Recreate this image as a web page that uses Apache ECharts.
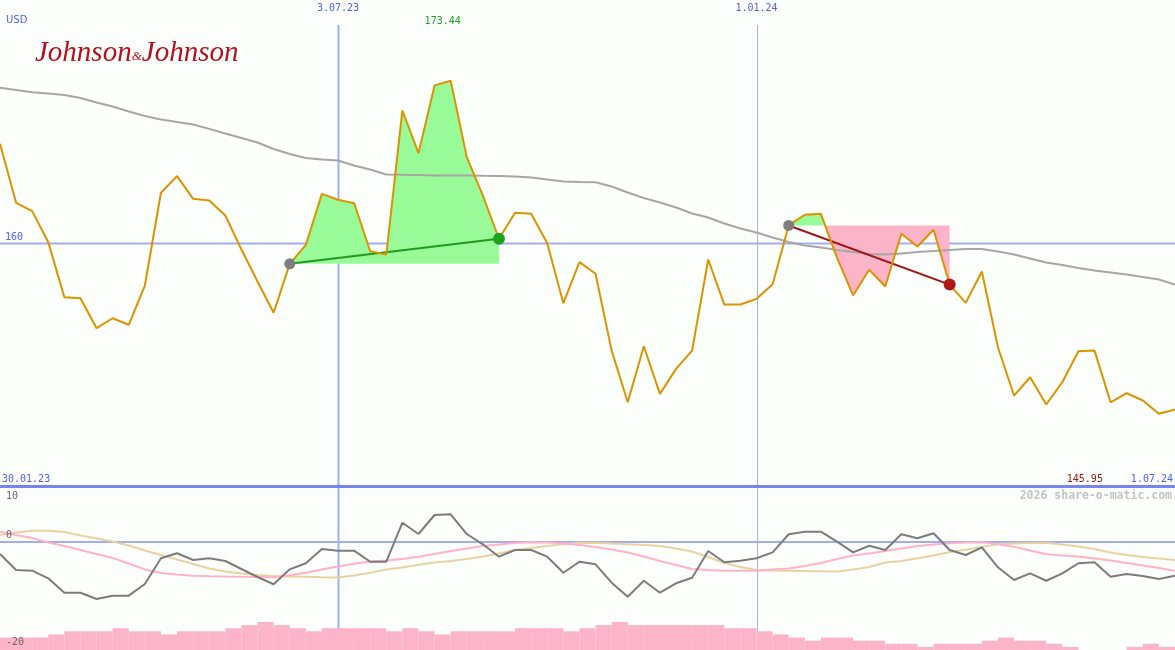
<!DOCTYPE html>
<html>
<head>
<meta charset="utf-8">
<script src="https://cdn.jsdelivr.net/npm/echarts@6/dist/echarts.min.js"></script>
<style>
  html, body { margin: 0; padding: 0; background: #fcfefc; }
  #chart { width: 1175px; height: 650px; }
</style>
</head>
<body>
<div id="chart"></div>
<script>
// Weekly closing prices (USD), one point per week
const price = [
  168.23, 163.36, 162.67, 160.11, 155.57, 155.48, 153.01, 153.83, 153.29, 156.53,
  164.19, 165.56, 163.69, 163.55, 162.31, 159.50, 156.86, 154.28, 158.32, 159.89,
  164.10, 163.61, 163.33, 159.36, 159.08, 170.98, 167.46, 173.05, 173.44, 167.13,
  163.96, 160.39, 162.54, 162.45, 160.02, 155.07, 158.46, 157.50, 151.16, 146.89,
  151.52, 147.59, 149.65, 151.16, 158.68, 154.96, 154.96, 155.43, 156.64, 161.49,
  162.37, 162.45, 158.84, 155.71, 157.83, 156.45, 160.80, 159.75, 161.13, 156.61,
  155.10, 157.69, 151.44, 147.45, 148.96, 146.71, 148.55, 151.11, 151.16, 146.89,
  147.64, 147.04, 145.95, 146.29
];

// Long moving average of the price
const movingAvg = [
  172.86, 172.68, 172.49, 172.39, 172.26, 172.01, 171.64, 171.31, 170.90, 170.53,
  170.24, 170.03, 169.83, 169.46, 169.08, 168.71, 168.34, 167.80, 167.39, 167.06,
  166.94, 166.85, 166.44, 166.11, 165.70, 165.67, 165.66, 165.62, 165.62, 165.62,
  165.59, 165.57, 165.53, 165.45, 165.28, 165.12, 165.08, 165.06, 164.71, 164.21,
  163.76, 163.39, 162.97, 162.48, 162.15, 161.65, 161.24, 160.91, 160.50, 160.12,
  159.83, 159.67, 159.46, 159.30, 159.13, 159.09, 159.17, 159.30, 159.38, 159.46,
  159.55, 159.55, 159.34, 159.09, 158.76, 158.43, 158.22, 157.98, 157.77, 157.61,
  157.44, 157.23, 157.03, 156.61
];

// Lower panel: momentum (grey) and two smoothed signal lines
const momentum = [
  -2.22, -5.19, -5.31, -6.72, -9.39, -9.39, -10.56, -9.94, -9.94, -7.78,
  -3.02, -2.09, -3.33, -3.02, -3.52, -5.00, -6.48, -7.83, -5.06, -3.94,
  -1.30, -1.61, -1.61, -3.65, -3.65, 3.57, 1.48, 5.00, 5.13, 1.48,
  -0.43, -2.72, -1.48, -1.48, -2.72, -5.69, -3.65, -4.13, -7.54, -10.13,
  -7.17, -9.39, -7.65, -6.61, -1.67, -3.76, -3.46, -3.02, -1.91, 1.43,
  1.91, 1.91, 0.06, -1.91, -0.69, -1.48, 1.43, 0.69, 1.61, -1.48,
  -2.41, -0.98, -4.69, -7.04, -5.80, -7.17, -5.80, -3.94, -3.76, -6.43,
  -5.93, -6.30, -6.85, -6.24
];
const signalFast = [
  1.91, 1.30, 0.74, -0.09, -0.74, -1.48, -2.22, -2.96, -3.98, -5.09,
  -5.74, -6.02, -6.26, -6.33, -6.39, -6.44, -6.48, -6.54, -6.17, -5.70,
  -5.09, -4.54, -4.04, -3.61, -3.43, -3.15, -2.74, -2.22, -1.67, -1.20,
  -0.74, -0.46, -0.19, -0.06, -0.11, -0.28, -0.56, -0.93, -1.39, -1.94,
  -2.69, -3.52, -4.26, -5.00, -5.19, -5.31, -5.31, -5.31, -5.09, -4.91,
  -4.44, -3.89, -3.15, -2.50, -2.13, -1.67, -1.20, -0.74, -0.46, -0.22,
  -0.09, -0.06, -0.43, -0.87, -1.57, -2.28, -2.50, -2.70, -3.06, -3.43,
  -3.89, -4.35, -4.81, -5.31
];
const signalSlow = [
  1.30, 1.76, 2.07, 2.07, 1.85, 1.20, 0.65, 0.09, -0.65, -1.57,
  -2.41, -3.24, -4.07, -4.91, -5.46, -5.83, -6.11, -6.30, -6.37, -6.43,
  -6.52, -6.59, -6.20, -5.70, -5.09, -4.72, -4.22, -3.80, -3.52, -3.15,
  -2.69, -2.13, -1.48, -1.11, -0.74, -0.37, -0.19, -0.13, -0.28, -0.41,
  -0.56, -0.74, -1.20, -1.76, -2.78, -3.89, -4.63, -5.19, -5.28, -5.31,
  -5.37, -5.43, -5.48, -5.09, -4.63, -3.80, -3.52, -3.02, -2.50, -1.85,
  -1.44, -0.93, -0.43, -0.28, -0.19, -0.13, -0.46, -0.83, -1.30, -1.94,
  -2.41, -2.78, -3.06, -3.33
];

// Weekly volume blocks between consecutive points
const volume = [
  4, 4, 4, 5, 6, 6, 6, 7, 6, 6, 5, 6, 6, 6, 7, 8, 9, 8, 7, 6,
  7, 7, 7, 7, 6, 7, 6, 5, 6, 6, 6, 6, 7, 7, 7, 6, 7, 8, 9, 8,
  8, 8, 8, 8, 8, 7, 7, 6, 5, 4, 3, 4, 4, 3, 3, 2, 2, 1, 2, 2,
  2, 3, 4, 3, 3, 2, 1, 0, 0, 0, 1, 2, 1
];

// Date ticks (week index -> label)
const tickIndex = [0, 21, 47, 73];
const tickLabels = ['30.01.23', '3.07.23', '1.01.24', '1.07.24'];

// Trades: entry / exit week indices
const tradeEntry = [18, 49];
const tradeExit = [31, 59];

const priceLevel = 160;
const oscTicks = [10, 0, -20];
const currency = 'USD';
const company = ['Johnson', '&', 'Johnson'];
const credit = '2026 share-o-matic.com';

const BLUE_TXT = '#4f5ff2';
const GUIDE = '#a2adf0';
const MONO = "'DejaVu Sans Mono', monospace";

const weeks = price.map((_, i) => i);
const volCats = volume.map((_, i) => String(i));
const toPairs = arr => arr.map((v, i) => [i, v]);

const maxIdx = price.indexOf(Math.max(...price));
const minIdx = price.indexOf(Math.min(...price));

// Area between the price path and the entry level, green above / pink below
function tradeArea(params, api) {
  const a = tradeEntry[params.dataIndex];
  const b = tradeExit[params.dataIndex];
  const base = price[a];
  const pts = [[a, price[a]]];
  for (let k = a; k < b; k++) {
    const p0 = price[k], p1 = price[k + 1];
    if ((p0 - base) * (p1 - base) < 0) {
      pts.push([k + (base - p0) / (p1 - p0), base]);
    }
    pts.push([k + 1, p1]);
  }
  const children = [];
  const flush = run => {
    if (run.length < 2) return;
    const inner = run.find(p => p[1] !== base);
    if (!inner) return;
    const poly = run.map(p => api.coord(p));
    poly.push(api.coord([run[run.length - 1][0], base]));
    poly.push(api.coord([run[0][0], base]));
    children.push({
      type: 'polygon',
      shape: { points: poly },
      style: { fill: inner[1] > base ? '#98fb98' : '#fbb4c8' }
    });
  };
  let run = [pts[0]];
  for (let n = 1; n < pts.length; n++) {
    run.push(pts[n]);
    if (pts[n][1] === base && n < pts.length - 1) {
      flush(run);
      run = [pts[n]];
    }
  }
  flush(run);
  return { type: 'group', children };
}

const chart = echarts.init(document.getElementById('chart'), null, { renderer: 'canvas' });

const tradeLines = tradeEntry.map((a, t) => {
  const b = tradeExit[t];
  const win = price[b] >= price[a];
  return {
    type: 'line', xAxisIndex: 0, yAxisIndex: 0, z: 4,
    data: [[a, price[a]], [b, price[b]]],
    symbol: 'none', silent: true,
    lineStyle: { color: win ? '#1f9a1f' : '#a01414', width: 2 }
  };
});

chart.setOption({
  animation: false,
  backgroundColor: '#fcfefc',
  grid: [
    { left: 0, right: 0, top: 0, height: 487 },
    { left: 0, right: 0, top: 488, height: 162 }
  ],
  xAxis: [
    { type: 'value', gridIndex: 0, min: 0, max: weeks.length - 1, show: false },
    { type: 'value', gridIndex: 1, min: 0, max: weeks.length - 1, show: false },
    { type: 'category', gridIndex: 1, data: volCats, boundaryGap: true, show: false }
  ],
  yAxis: [
    { type: 'value', gridIndex: 0, min: 139.9, max: 180.1, show: false },
    { type: 'value', gridIndex: 1, min: -20, max: 10, show: false },
    { type: 'value', gridIndex: 1, min: 0, max: 52, show: false }
  ],
  series: [
    {
      type: 'custom', xAxisIndex: 0, yAxisIndex: 0, z: 2, silent: true,
      renderItem: tradeArea,
      data: tradeEntry.map(i => [i, price[i]])
    },
    {
      type: 'line', xAxisIndex: 0, yAxisIndex: 0, z: 3, silent: true,
      data: toPairs(movingAvg), symbol: 'none',
      lineStyle: { color: '#a6a6a6', width: 2 }
    },
    ...tradeLines,
    {
      type: 'line', xAxisIndex: 0, yAxisIndex: 0, z: 5, silent: true,
      data: toPairs(price), symbol: 'none',
      lineStyle: { color: '#dc9300', width: 2 }
    },
    {
      type: 'scatter', xAxisIndex: 0, yAxisIndex: 0, z: 6, silent: true,
      symbolSize: 11,
      data: tradeEntry.map(i => [i, price[i]]),
      itemStyle: { color: '#7e7e7e', opacity: 1 }
    },
    {
      type: 'scatter', xAxisIndex: 0, yAxisIndex: 0, z: 6, silent: true,
      symbolSize: 12,
      data: tradeExit.map((i, t) => ({
        value: [i, price[i]],
        itemStyle: { color: price[i] >= price[tradeEntry[t]] ? '#20a020' : '#b01818', opacity: 1 }
      }))
    },
    {
      type: 'bar', xAxisIndex: 2, yAxisIndex: 2, z: 3, silent: true,
      data: volume, barWidth: '100%', barCategoryGap: 0,
      itemStyle: { color: '#fbb4c8' }
    },
    {
      type: 'line', xAxisIndex: 1, yAxisIndex: 1, z: 4, silent: true,
      data: toPairs(signalSlow), symbol: 'none',
      lineStyle: { color: '#e8d2a2', width: 2 }
    },
    {
      type: 'line', xAxisIndex: 1, yAxisIndex: 1, z: 4, silent: true,
      data: toPairs(signalFast), symbol: 'none',
      lineStyle: { color: '#ffb2c8', width: 2 }
    },
    {
      type: 'line', xAxisIndex: 1, yAxisIndex: 1, z: 5, silent: true,
      data: toPairs(momentum), symbol: 'none',
      lineStyle: { color: '#7c7c7c', width: 2 }
    }
  ]
});

// Guides and text placed from the axes' own scales
const px = (i, v) => chart.convertToPixel({ xAxisIndex: 0, yAxisIndex: 0 }, [i, v]);
const pxLow = (i, v) => chart.convertToPixel({ xAxisIndex: 1, yAxisIndex: 1 }, [i, v]);

const y160 = px(0, priceLevel)[1];
const yZero = pxLow(0, 0)[1];
const xMid1 = px(tickIndex[1], priceLevel)[0];
const xMid2 = px(tickIndex[2], priceLevel)[0];
const xFirst = px(tickIndex[0], priceLevel)[0];
const xLast = px(tickIndex[3], priceLevel)[0];
const maxPt = px(maxIdx, price[maxIdx]);
const minPt = px(minIdx, price[minIdx]);

const txt = (text, x, y, color, align, extra) => ({
  type: 'text', x, y, z: 20, silent: true,
  style: Object.assign({
    text, fill: color, font: '10px ' + MONO,
    align: align || 'left', verticalAlign: 'middle'
  }, extra || {})
});

chart.setOption({
  graphic: [
    { type: 'line', z: 0, silent: true, shape: { x1: 0, y1: y160, x2: 1175, y2: y160 }, style: { stroke: GUIDE, lineWidth: 2 } },
    { type: 'line', z: 0, silent: true, shape: { x1: 0, y1: yZero, x2: 1175, y2: yZero }, style: { stroke: GUIDE, lineWidth: 2 } },
    { type: 'line', z: 0, silent: true, shape: { x1: Math.round(xMid1) + 0.5, y1: 25, x2: Math.round(xMid1) + 0.5, y2: 650 }, style: { stroke: GUIDE, lineWidth: 2 } },
    { type: 'line', z: 0, silent: true, shape: { x1: Math.round(xMid2) + 0.5, y1: 25, x2: Math.round(xMid2) + 0.5, y2: 650 }, style: { stroke: '#a9b0e4', lineWidth: 1 } },
    { type: 'rect', z: 10, silent: true, shape: { x: 0, y: 485, width: 1175, height: 3 }, style: { fill: '#7584f0' } },

    txt(currency, 6, 20, BLUE_TXT, 'left', { font: "10px 'DejaVu Sans', sans-serif" }),
    txt(tickLabels[1], xMid1, 8, BLUE_TXT, 'center'),
    txt(tickLabels[2], xMid2, 8, BLUE_TXT, 'center'),
    txt(tickLabels[0], xFirst + 2, 479, BLUE_TXT, 'left'),
    txt(tickLabels[3], xLast - 2, 479, BLUE_TXT, 'right'),
    txt(price[maxIdx].toFixed(2), maxPt[0] - 8, 21, '#22a022', 'center'),
    txt(price[minIdx].toFixed(2), minPt[0] - 56, 479, '#a01414', 'right'),
    txt(String(priceLevel), 5, y160 - 6, BLUE_TXT, 'left'),
    txt(String(oscTicks[0]), 6, 496, '#666666', 'left'),
    txt(String(oscTicks[1]), 6, yZero - 7, '#666666', 'left'),
    txt(String(oscTicks[2]), 6, 642, '#666666', 'left'),
    txt(credit, 1172, 496, '#c4c4c4', 'right', { font: "bold 11.5px " + MONO }),

    {
      type: 'text', x: 35, y: 53, z: 20, silent: true,
      style: {
        text: '{j|' + company[0] + '}{a|' + company[1] + '}{j|' + company[2] + '}',
        verticalAlign: 'middle',
        rich: {
          j: { font: "italic 29px 'Liberation Serif', serif", fill: '#b3121c' },
          a: { font: "italic 13px 'Liberation Serif', serif", fill: '#b3121c', padding: [8, 0, 0, 0] }
        }
      }
    }
  ]
});
</script>
</body>
</html>
